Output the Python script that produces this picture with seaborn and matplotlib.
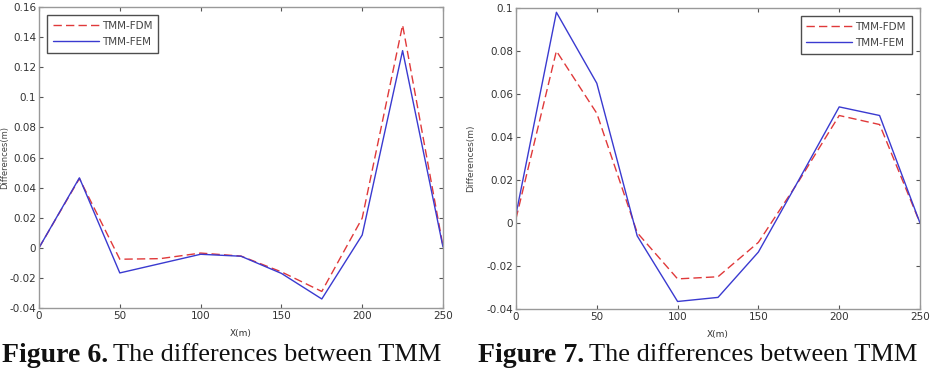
import numpy as np
import pandas as pd
import matplotlib
matplotlib.use("Agg")
import matplotlib.pyplot as plt
import seaborn as sns

# Figure 6 data
x6 = [0, 25, 50, 75, 100, 125, 150, 175, 200, 225, 250]
fdm6 = [0.0, 0.046, -0.0076, -0.0072, -0.0035, -0.0055, -0.016, -0.029, 0.0197, 0.148, 0.001]
fem6 = [0.0, 0.0465, -0.0167, -0.0105, -0.0043, -0.0056, -0.017, -0.034, 0.0085, 0.131, 0.0005]

# Figure 7 data
x7 = [0, 25, 50, 75, 100, 125, 150, 175, 200, 225, 250]
fdm7 = [0.002, 0.080, 0.051, -0.0045, -0.026, -0.025, -0.009, 0.0195, 0.050, 0.0458, 0.0]
fem7 = [0.004, 0.098, 0.065, -0.006, -0.0365, -0.0346, -0.0135, 0.0200, 0.054, 0.050, 0.0]

series_names = ["TMM-FDM", "TMM-FEM"]
yticks6 = [-0.04, -0.02, 0, 0.02, 0.04, 0.06, 0.08, 0.1, 0.12, 0.14, 0.16]
yticks7 = [-0.04, -0.02, 0, 0.02, 0.04, 0.06, 0.08, 0.1]
xticks = [0, 50, 100, 150, 200, 250]
captions = ["Figure 6.", "Figure 7."]
caption_rest = "The differences between TMM"

sns.set_style("white")
plt.rcParams['font.family'] = ['DejaVu Sans']

fig = plt.figure(figsize=(9.3, 3.76), dpi=100)
ax6 = fig.add_axes([39 / 930, 1 - 308 / 376, 404 / 930, 301 / 376])
ax7 = fig.add_axes([516 / 930, 1 - 309 / 376, 404 / 930, 301 / 376])

red = "#e0393a"
blue = "#3a3ad0"


def draw(ax, x, fdm, fem, yticks, ylim, legend_loc):
    df = pd.DataFrame({"x": x + x, "y": fdm + fem,
                       "series": [series_names[0]] * len(x) + [series_names[1]] * len(x)})
    sns.lineplot(data=df, x="x", y="y", hue="series", style="series",
                 palette=[red, blue], dashes=[(6, 3), ""], linewidth=1.0, ax=ax)
    ax.set_xlim(0, 250)
    ax.set_ylim(*ylim)
    ax.set_xticks(xticks)
    ax.set_yticks(yticks)
    ax.set_xticklabels([str(t) for t in xticks])
    ax.set_yticklabels([("%g" % t) for t in yticks])
    ax.tick_params(direction="in", length=3, width=0.8, labelsize=7.5,
                   colors="#555555", labelcolor="#333333",
                   top=True, right=True, bottom=True, left=True, pad=2)
    for s in ax.spines.values():
        s.set_color("#999999")
        s.set_linewidth(1.0)
    ax.set_xlabel("X(m)", fontsize=6.5, color="#333333", labelpad=6)
    ax.set_ylabel("Differences(m)", fontsize=6.5, color="#444444", labelpad=8)
    leg = ax.legend(loc=legend_loc, fontsize=7.5, frameon=True, fancybox=False,
                    handlelength=4.4, borderpad=0.55, labelspacing=0.55,
                    handletextpad=0.3, borderaxespad=0.8)
    leg.get_frame().set_edgecolor("#222222")
    leg.get_frame().set_linewidth(1.0)
    for t in leg.get_texts():
        t.set_color("#444444")


draw(ax6, x6, fdm6, fem6, yticks6, (-0.04, 0.16), "upper left")
draw(ax7, x7, fdm7, fem7, yticks7, (-0.04, 0.1), "upper right")
ax6.yaxis.label.set_fontsize(6)
ax6.yaxis.set_label_coords(-0.074, 0.5)
ax7.yaxis.set_label_coords(-0.102, 0.5)

# captions
cap_y = 1 - 355 / 376
serif = ["Liberation Serif", "DejaVu Serif"]
fig.text(2 / 930, cap_y, captions[0], fontsize=20, fontweight="bold", family=serif,
         va="center", ha="left", color="#111111")
fig.text(113 / 930, cap_y, caption_rest, fontsize=19, family=serif,
         va="center", ha="left", color="#111111")
fig.text(478 / 930, cap_y, captions[1], fontsize=20, fontweight="bold", family=serif,
         va="center", ha="left", color="#111111")
fig.text(589 / 930, cap_y, caption_rest, fontsize=19, family=serif,
         va="center", ha="left", color="#111111")

fig.savefig("out.png", dpi=100)
